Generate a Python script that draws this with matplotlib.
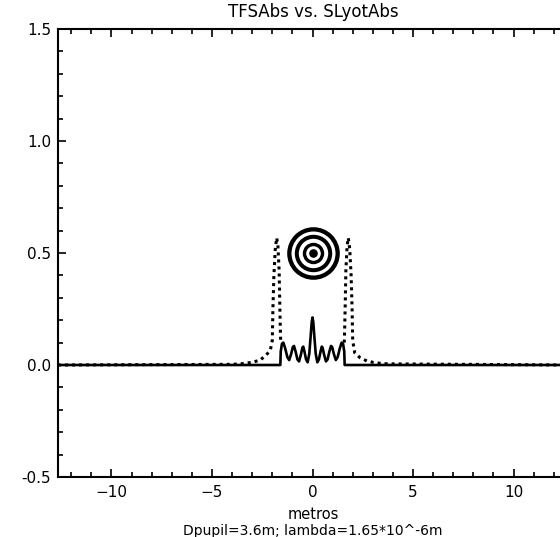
import matplotlib
matplotlib.use('Agg')
import matplotlib.pyplot as plt
import numpy as np
from matplotlib.ticker import MultipleLocator

# TFS abs (solid)
tfs_x = [-12.66, -1.60, -1.58, -1.52, -1.45, -1.36, -1.25, -1.16, -1.06, -0.98, -0.92,
         -0.84, -0.75, -0.67, -0.58, -0.50, -0.46, -0.40, -0.32, -0.24, -0.16, -0.09,
         -0.04, 0.0, 0.04, 0.09, 0.16, 0.24, 0.32, 0.40, 0.46, 0.50, 0.58, 0.67, 0.75,
         0.84, 0.92, 0.98, 1.06, 1.16, 1.25, 1.36, 1.45, 1.52, 1.58, 1.60, 12.66]
tfs_y = [0.0, 0.0, 0.06, 0.095, 0.10, 0.075, 0.035, 0.022, 0.05, 0.08, 0.085,
         0.06, 0.025, 0.016, 0.045, 0.078, 0.082, 0.06, 0.025, 0.012, 0.05, 0.13,
         0.19, 0.212, 0.19, 0.13, 0.05, 0.012, 0.025, 0.06, 0.082, 0.078, 0.045, 0.016, 0.025,
         0.06, 0.085, 0.08, 0.05, 0.022, 0.035, 0.075, 0.10, 0.095, 0.06, 0.0, 0.0]

# SLyot abs (dotted)
lyot_x = [-12.66, -4.0, -3.5, -3.0, -2.6, -2.3, -2.1, -2.0, -1.97, -1.92, -1.85, -1.78,
          -1.72, -1.66, -1.63, -1.60, -1.58, np.nan,
          1.58, 1.60, 1.63, 1.66, 1.72, 1.78, 1.85, 1.92, 1.97, 2.0, 2.1, 2.36, 2.7,
          3.0, 3.5, 4.0, 12.66]
lyot_y = [0.0, 0.003, 0.006, 0.012, 0.022, 0.045, 0.065, 0.11, 0.25, 0.40, 0.52, 0.568,
          0.53, 0.42, 0.28, 0.16, 0.10, np.nan,
          0.10, 0.16, 0.28, 0.42, 0.53, 0.568, 0.52, 0.40, 0.25, 0.11, 0.055, 0.033, 0.018,
          0.012, 0.006, 0.005, 0.0]

# target symbol
ring_x = [0.0]
ring_y = [0.5]

px = 0.72  # points per pixel at dpi 100

fig = plt.figure(figsize=(5.6, 5.37), dpi=100)
ax = fig.add_axes([58 / 560, 1 - 477 / 537, 509 / 560, 448 / 537])

ax.plot(tfs_x, tfs_y, color='black', linewidth=1.9)
ax.plot(lyot_x, lyot_y, color='black', linewidth=2.2, linestyle=(0, (1, 1.3)))

# concentric rings + dot
for r_out, r_in in [(26.3, 22.0), (18.7, 14.7), (10.7, 7.3)]:
    ax.plot(ring_x, ring_y, 'o', ms=(r_out + r_in) * px, mfc='none', mec='black',
            mew=(r_out - r_in) * px)
ax.plot(ring_x, ring_y, 'o', ms=2 * 4.3 * px, mfc='black', mec='none')

ax.set_xlim(-12.66, 12.66)
ax.set_ylim(-0.5, 1.5)
ax.xaxis.set_major_locator(MultipleLocator(5))
ax.xaxis.set_minor_locator(MultipleLocator(1))
ax.yaxis.set_major_locator(MultipleLocator(0.5))
ax.yaxis.set_minor_locator(MultipleLocator(0.1))
ax.yaxis.set_major_formatter(plt.FuncFormatter(lambda v, p: '%.1f' % v))
ax.tick_params(which='both', direction='in', top=True, right=False, labelsize=11, width=1.2)
ax.tick_params(which='major', length=6)
ax.tick_params(which='minor', length=3.5)
ax.tick_params(axis='y', pad=5)
ax.tick_params(axis='x', pad=6)
for s in ax.spines.values():
    s.set_linewidth(1.5)

fig.text(313 / 560, 1 - 12 / 537, 'TFSAbs vs. SLyotAbs', ha='center', va='center', fontsize=12)
fig.text(313 / 560, 1 - 519 / 537, 'metros', ha='center', va='baseline', fontsize=10.5)
fig.text(313 / 560, 1 - 535 / 537, 'Dpupil=3.6m; lambda=1.65*10^-6m', ha='center',
         va='baseline', fontsize=10)

fig.savefig('out.png', dpi=100)
